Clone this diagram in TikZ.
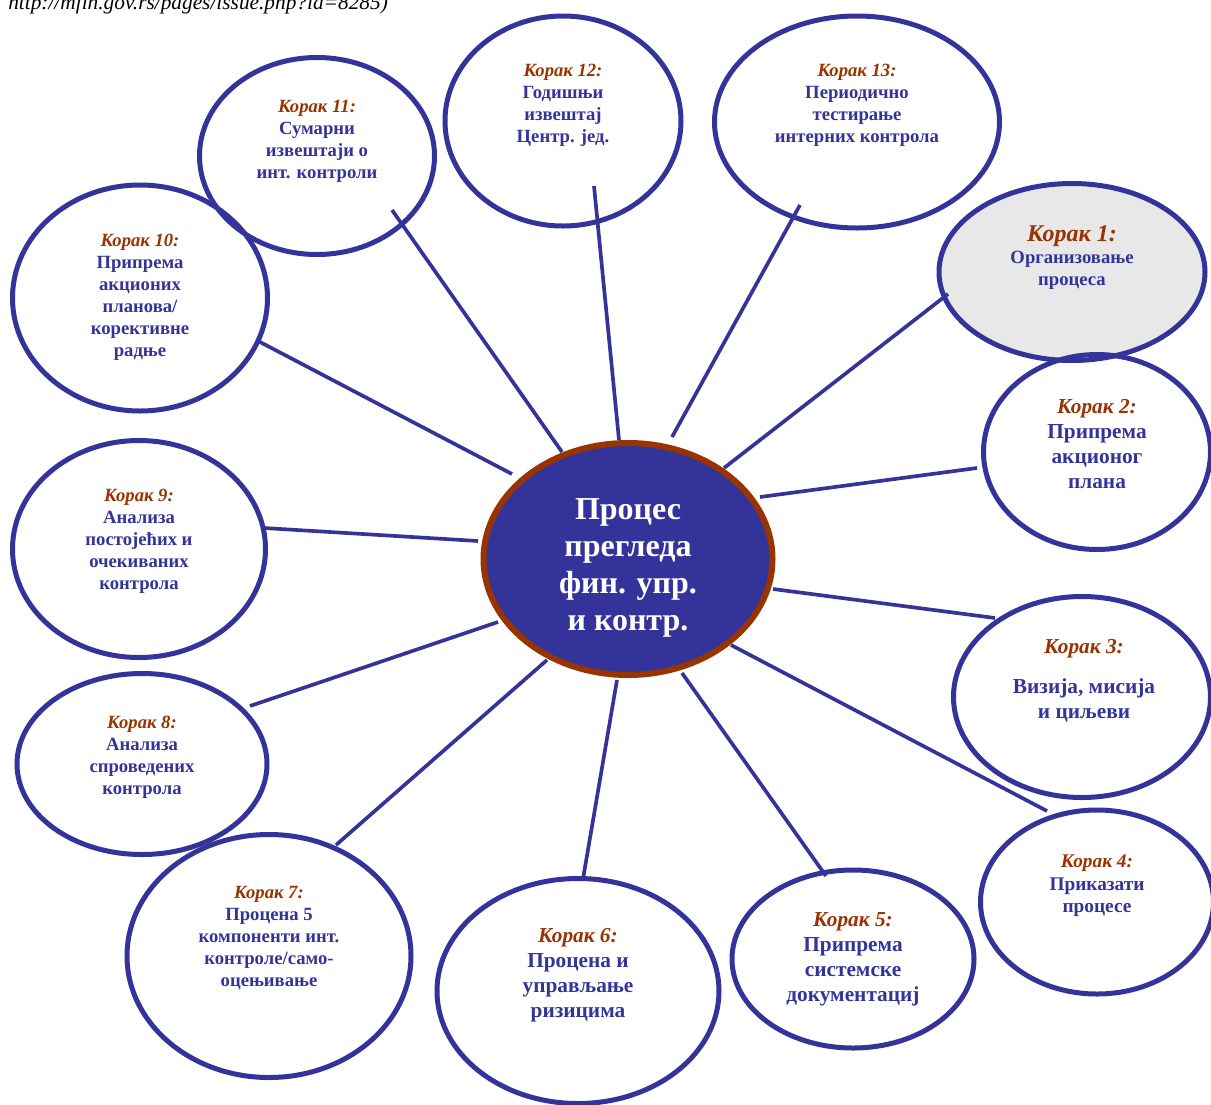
\documentclass[tikz,border=0pt]{standalone}
\usepackage{fontspec}
\setmainfont{Liberation Serif}
\usetikzlibrary{shapes.geometric}

\definecolor{stepblue}{HTML}{333399}
\definecolor{stepbrown}{HTML}{993300}
\definecolor{stepgray}{HTML}{E8E8E8}

\tikzset{
  stepell/.style={ellipse, draw=stepblue, line width=3.75pt, inner sep=0pt},
  esize/.style 2 args={minimum width=#1*0.75pt, minimum height=#2*0.75pt},
  steptxt/.style={align=center, text=stepblue, inner sep=0pt,
    font=\bfseries\fontsize{14}{16.5}\selectfont},
  bigtxt/.style={align=center, text=stepblue, inner sep=0pt,
    font=\bfseries\fontsize{16}{18.75}\selectfont},
  spoke/.style={draw=stepblue, line width=2.75pt},
}
\newcommand{\korak}[1]{{\color{stepbrown}\itshape #1}}

\begin{document}
\begin{tikzpicture}[x=0.75pt,y=-0.75pt]
  \useasboundingbox (0,0) rectangle (1211,1104);

  % source line, cut at the top
  \node[anchor=base west, inner sep=0pt, font=\itshape\fontsize{16}{18}\selectfont] (src) at (8,9)
    {http://mfin.gov.rs/pages/issue.php?id=8285)};

  % outer steps
  \node[stepell, fill=stepgray, esize={266}{177}] (k1) at (1072,272) {};
  \node[stepell, esize={227}{195}] (k2) at (1097,452) {};
  \node[stepell, esize={257}{201}] (k3) at (1082,697) {};
  \node[stepell, esize={233}{184}] (k4) at (1097,902) {};
  \node[stepell, esize={242}{178}] (k5) at (853,959) {};
  \node[stepell, esize={282}{225}] (k6) at (578,991) {};
  \node[stepell, esize={284}{243}] (k7) at (269,956) {};
  \node[stepell, esize={250}{181}] (k8) at (142,764) {};
  \node[stepell, esize={253}{217}] (k9) at (139,549) {};
  \node[stepell, esize={255}{226}] (k10) at (140,298) {};
  \node[stepell, esize={235}{197}] (k11) at (317,156) {};
  \node[stepell, esize={236}{210}] (k12) at (563,121) {};
  \node[stepell, esize={285}{212}] (k13) at (857,122) {};

  % texts of the steps
  \node[steptxt] (t1) at (1072,258)
    {\korak{\fontsize{18}{21}\selectfont Корак 1:}\\Организовање\\процеса};
  \node[bigtxt] (t2) at (1097,444.5) {\korak{Корак 2:}\\Припрема\\акционог\\плана};
  \node[bigtxt] (t3) at (1084,681) {\korak{Корак 3:}\\[11pt]Визија, мисија\\и циљеви};
  \node[steptxt, font=\bfseries\fontsize{14.5}{17}\selectfont] (t4) at (1097,886)
    {\korak{Корак 4:}\\Приказати\\процесе};
  \node[bigtxt] (t5) at (853,959.5) {\korak{Корак 5:}\\Припрема\\системске\\документациј};
  \node[bigtxt] (t6) at (578,975.5) {\korak{Корак 6:}\\Процена и\\управљање\\ризицима};
  \node[steptxt] (t7) at (269,938)
    {\korak{Корак 7:}\\Процена 5\\компоненти инт.\\контроле/само-\\оцењивање};
  \node[steptxt] (t8) at (142,757) {\korak{Корак 8:}\\Анализа\\спроведених\\контрола};
  \node[steptxt] (t9) at (139,541.5)
    {\korak{Корак 9:}\\Анализа\\постојећих и\\очекиваних\\контрола};
  \node[steptxt] (t10) at (140,297.5)
    {\korak{Корак 10:}\\Припрема\\акционих\\планова/\\корективне\\радње};
  \node[steptxt] (t11) at (317,141.5) {\korak{Корак 11:}\\Сумарни\\извештаји о\\инт. контроли};
  \node[steptxt] (t12) at (563,105) {\korak{Корак 12:}\\Годишњи\\извештај\\Центр. јед.};
  \node[steptxt] (t13) at (857,105)
    {\korak{Корак 13:}\\Периодично\\тестирање\\интерних контрола};

  % centre
  \node[ellipse, draw=stepbrown, fill=stepblue, line width=4.5pt, inner sep=0pt,
    esize={289}{232}] (cen) at (628,559) {};
  \node[align=center, text=white, inner sep=0pt,
    font=\bfseries\fontsize{24}{27.75}\selectfont] (cent) at (628,568)
    {Процес\\прегледа\\фин. упр.\\и контр.};

  % spokes
  \foreach \n/\ax/\ay/\bx/\by in {1/724/468/948/294, 2/760/497/977/468,
      3/773/589/995/618, 4/731/645/1047/811, 5/682/673/826/876,
      6/617/680/583/879, 7/547/660/336/845, 8/498/622/250/706,
      9/478/541/264/528, 10/512/474/260/342, 11/562/452/392/210,
      12/619/440/594/186, 13/672/437/800/205}{
    \coordinate (s\n) at (\ax,\ay);
    \coordinate (e\n) at (\bx,\by);
    \draw[spoke] (s\n) -- (e\n);
  }
\end{tikzpicture}
\end{document}
